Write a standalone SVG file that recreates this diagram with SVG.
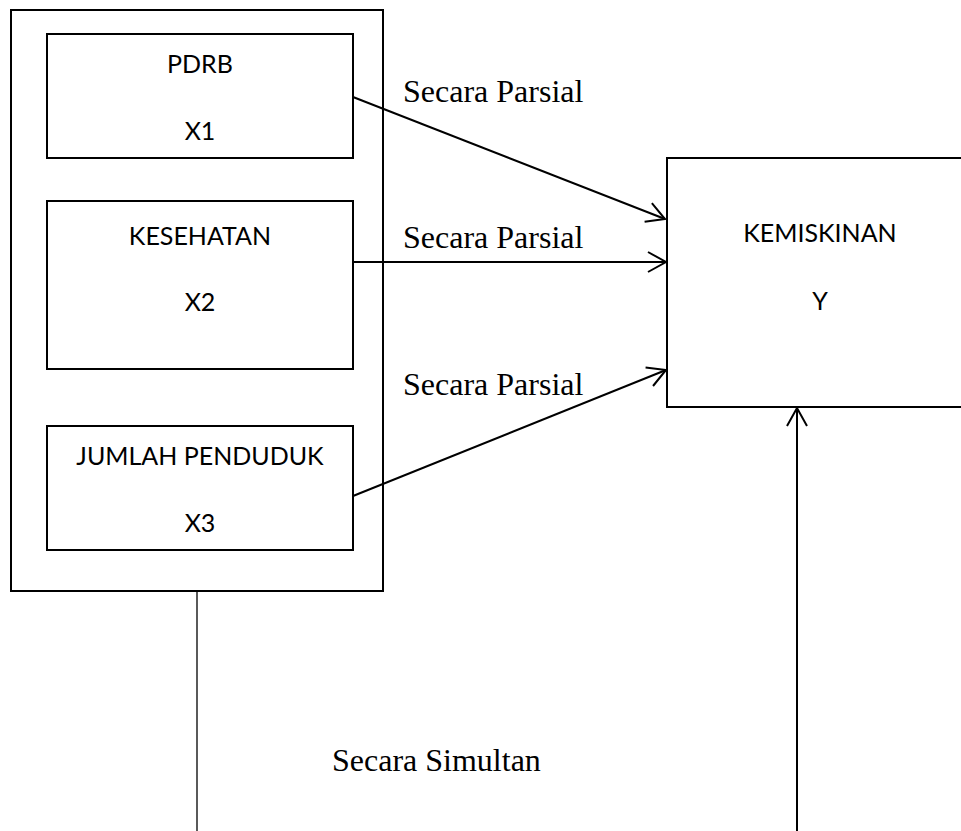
<svg xmlns="http://www.w3.org/2000/svg" width="961" height="831" viewBox="0 0 961 831">
  <style>
    .box { fill: #ffffff; stroke: #000000; stroke-width: 2; }
    .lbl { font-family: Lato, "Liberation Sans", sans-serif; font-size: 25px; fill: #000000; text-anchor: middle; }
    .ser { font-family: "Liberation Serif", "Times New Roman", serif; font-size: 32px; fill: #000000; }
    .conn { stroke: #000000; stroke-width: 2; fill: none; }
  </style>
  <defs>
    <marker id="arr" markerUnits="userSpaceOnUse" markerWidth="24" markerHeight="24" viewBox="-20 -12 24 24" refX="0" refY="0" orient="auto">
      <path d="M -18,-10 L 0,0 L -18,10" fill="none" stroke="#000000" stroke-width="2"/>
    </marker>
  </defs>
  <rect width="961" height="831" fill="#ffffff"/>

  <g id="group-x">
    <rect class="box" x="11" y="10" width="372" height="581"/>
  </g>
  <g id="node-x1">
    <rect class="box" x="47" y="34" width="306" height="124"/>
    <text class="lbl" x="200" y="73">PDRB</text>
    <text class="lbl" x="200" y="140">X1</text>
  </g>
  <g id="node-x2">
    <rect class="box" x="47" y="201" width="306" height="168"/>
    <text class="lbl" x="200" y="245">KESEHATAN</text>
    <text class="lbl" x="200" y="311">X2</text>
  </g>
  <g id="node-x3">
    <rect class="box" x="47" y="426" width="306" height="124"/>
    <text class="lbl" x="200" y="465">JUMLAH PENDUDUK</text>
    <text class="lbl" x="200" y="532">X3</text>
  </g>
  <g id="node-y">
    <rect class="box" x="667" y="158" width="330" height="249"/>
    <text class="lbl" x="820" y="242">KEMISKINAN</text>
    <text class="lbl" x="820" y="310">Y</text>
  </g>

  <g id="connectors">
    <line class="conn" x1="353" y1="97" x2="665" y2="219" marker-end="url(#arr)"/>
    <line class="conn" x1="353" y1="262" x2="666" y2="262" marker-end="url(#arr)"/>
    <line class="conn" x1="353" y1="496" x2="666" y2="370" marker-end="url(#arr)"/>
    <line x1="197" y1="591" x2="197" y2="831" stroke="#000000" stroke-width="1.3"/>
    <line class="conn" x1="797" y1="831" x2="797" y2="408" marker-end="url(#arr)"/>
  </g>

  <g id="labels">
    <text class="ser" x="403" y="102">Secara Parsial</text>
    <text class="ser" x="403" y="248">Secara Parsial</text>
    <text class="ser" x="403" y="395">Secara Parsial</text>
    <text class="ser" x="332" y="771">Secara Simultan</text>
  </g>
</svg>
